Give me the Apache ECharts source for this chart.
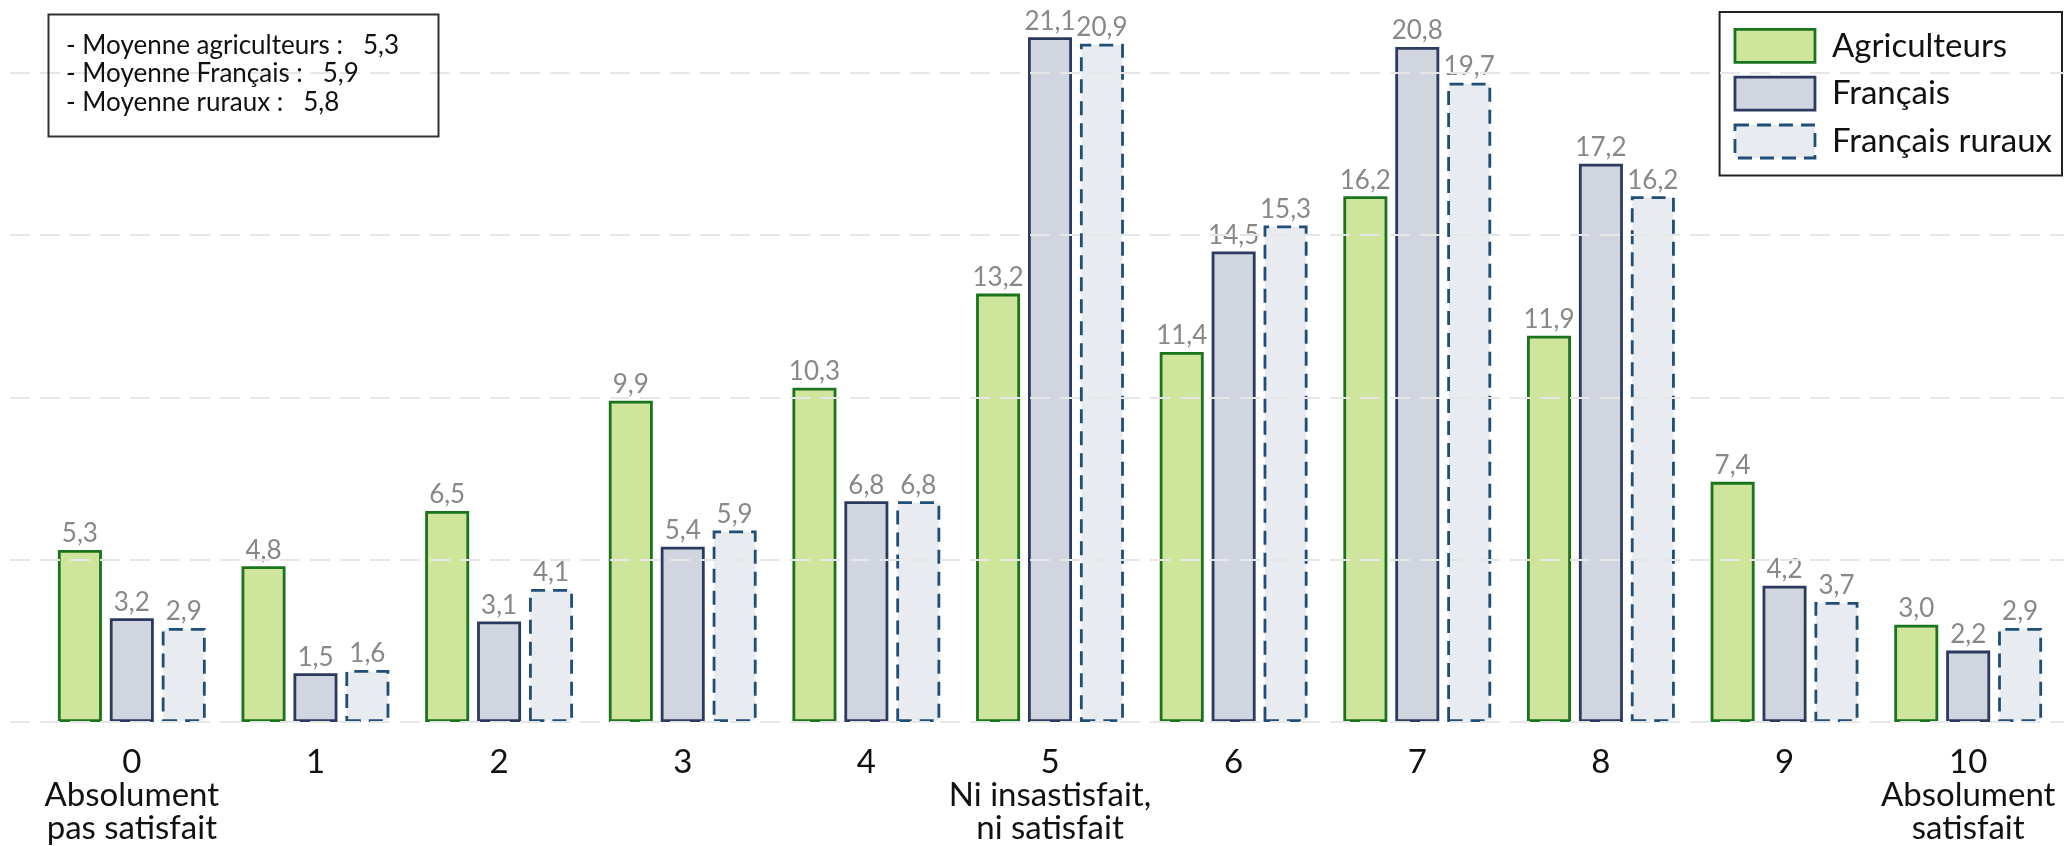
<!DOCTYPE html>
<html>
<head>
<meta charset="utf-8">
<script src="https://cdn.jsdelivr.net/npm/echarts@6/dist/echarts.min.js"></script>
<style>
html,body{margin:0;padding:0;background:#fff;}
#chart{width:2064px;height:846px;}
</style>
</head>
<body>
<div id="chart"></div>
<script>
const categories = ['0\nAbsolument\npas satisfait','1','2','3','4','5\nNi insastisfait,\nni satisfait','6','7','8','9','10\nAbsolument\nsatisfait'];
const agriculteurs = [5.3, 4.8, 6.5, 9.9, 10.3, 13.2, 11.4, 16.2, 11.9, 7.4, 3.0];
const francais = [3.2, 1.5, 3.1, 5.4, 6.8, 21.1, 14.5, 20.8, 17.2, 4.2, 2.2];
const francaisRuraux = [2.9, 1.6, 4.1, 5.9, 6.8, 20.9, 15.3, 19.7, 16.2, 3.7, 2.9];
const seriesNames = ['Agriculteurs', 'Français', 'Français ruraux'];
const meanLines = ['- Moyenne agriculteurs :   5,3', '- Moyenne Français :   5,9', '- Moyenne ruraux :   5,8'];

const FONT = 'Lato, "Open Sans", sans-serif';
const styles = [
  {color:'#cfe59b', borderColor:'#1a741d', borderWidth:2.8, borderType:'solid'},
  {color:'#d1d5df', borderColor:'#2b3a5e', borderWidth:2.8, borderType:'solid'},
  {color:'#e8ebf0', borderColor:'#1f4e79', borderWidth:2.8, borderType:[14,8]}
];
const fmt = p => p.value.toFixed(1).replace('.', ',');
const dataSets = [agriculteurs, francais, francaisRuraux];

const chart = echarts.init(document.getElementById('chart'), null, {renderer:'canvas'});
chart.setOption({
  animation:false,
  backgroundColor:'#fff',
  textStyle:{fontFamily:FONT},
  grid:[
    {left:40, right:4, top:8, bottom:124, containLabel:false},
    {left:10, right:0, top:8, bottom:124, containLabel:false, z:5}
  ],
  xAxis:[
    {type:'category', gridIndex:0, data:categories,
     axisLine:{show:false}, axisTick:{show:false},
     axisLabel:{interval:0, color:'#111', fontSize:33, lineHeight:33, margin:24, fontFamily:FONT}},
    {type:'value', gridIndex:1, min:0, max:1, show:false}
  ],
  yAxis:[
    {type:'value', gridIndex:0, min:0, max:22, interval:5, show:false, splitLine:{show:false}},
    {type:'value', gridIndex:1, min:0, max:22, interval:5,
     axisLine:{show:false}, axisTick:{show:false}, axisLabel:{show:false},
     z:5,
     splitLine:{show:true, showMinLine:true, showMaxLine:false,
       lineStyle:{color:'#e6e6e6', width:2, type:[20,10]}}}
  ],
  legend:{
    orient:'vertical', right:2, top:12,
    backgroundColor:'#fff', borderColor:'#222', borderWidth:2, borderRadius:0,
    padding:[16,10,16,14],
    itemWidth:80, itemHeight:33, itemGap:12,
    textStyle:{fontSize:33, color:'#111', fontFamily:FONT, padding:[0,0,0,12]},
    data: seriesNames.map((n,i)=>({name:n, icon:'rect', itemStyle:Object.assign({}, styles[i])}))
  },
  graphic:[
    {type:'rect', left:46, top:12, z:10,
     shape:{width:390, height:122},
     style:{fill:'none', stroke:'#333', lineWidth:2}},
    {type:'text', left:66, top:31, z:10,
     style:{text:meanLines.join('\n'), font:'26px ' + FONT, lineHeight:28.5, fill:'#111'}}
  ],
  series: seriesNames.map((n,i)=>({
    name:n, type:'bar', xAxisIndex:0, yAxisIndex:0,
    data:dataSets[i], barWidth:44, barGap:'18%',
    itemStyle:styles[i],
    label:{show:true, position:'top', distance:3, formatter:fmt, color:'#8a8785', fontSize:26, fontFamily:FONT}
  }))
});
</script>
</body>
</html>
